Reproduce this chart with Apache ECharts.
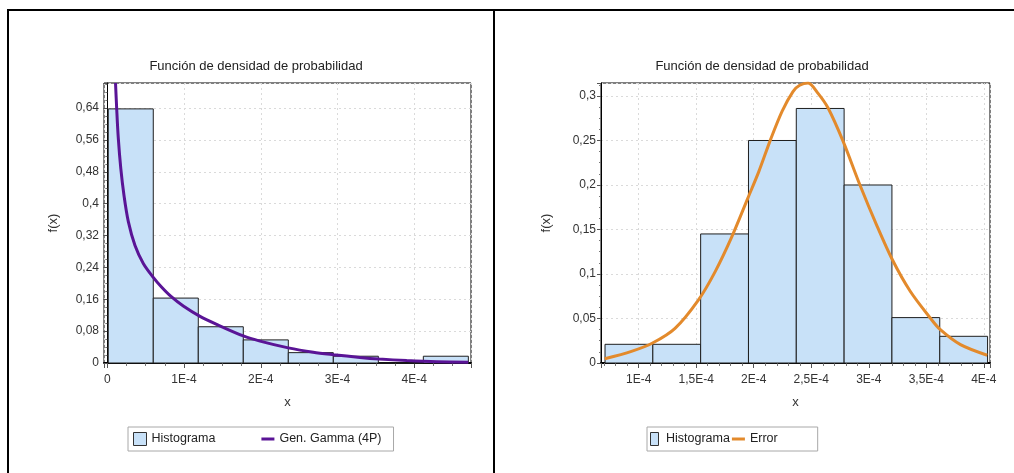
<!DOCTYPE html>
<html>
<head>
<meta charset="utf-8">
<script src="https://cdn.jsdelivr.net/npm/echarts@6/dist/echarts.min.js"></script>
<style>
  html, body { margin: 0; padding: 0; background: #fff; }
  #wrap { position: relative; width: 1014px; height: 473px; overflow: hidden; }
  #chart { position: absolute; left: 0; top: 0; width: 1014px; height: 473px; }
  .rule { position: absolute; background: #000; }
</style>
</head>
<body>
<div id="wrap">
  <div id="chart"></div>
  <!-- table cell rules -->
  <div class="rule" style="left:7px;top:9px;width:1007px;height:2px"></div>
  <div class="rule" style="left:7px;top:9px;width:2px;height:464px"></div>
  <div class="rule" style="left:493px;top:9px;width:2px;height:464px"></div>
</div>
<script>
const FONT = '"Liberation Sans", Arial, sans-serif';
const TITLE = 'Función de densidad de probabilidad';

// Left panel: histogram + fitted generalized gamma density
const leftBinEdges = [0.0125e-4, 0.599e-4, 1.1855e-4, 1.772e-4, 2.3585e-4, 2.945e-4, 3.5315e-4, 4.118e-4, 4.7045e-4];
const leftDensity = [0.638, 0.163, 0.091, 0.058, 0.026, 0.017, 0, 0.017];
const leftCurve = [
  [0.107e-4, 0.703], [0.122e-4, 0.640], [0.143e-4, 0.565], [0.175e-4, 0.490],
  [0.218e-4, 0.420], [0.274e-4, 0.355], [0.361e-4, 0.295], [0.469e-4, 0.250],
  [0.599e-4, 0.215], [0.700e-4, 0.192], [0.830e-4, 0.167], [0.990e-4, 0.143],
  [1.208e-4, 0.117], [1.425e-4, 0.097], [1.772e-4, 0.068], [1.990e-4, 0.055],
  [2.358e-4, 0.038], [2.684e-4, 0.027], [2.945e-4, 0.021], [3.293e-4, 0.014],
  [3.544e-4, 0.010], [3.901e-4, 0.006], [4.292e-4, 0.003], [4.704e-4, 0.002]
];
const leftXRange = [-0.043e-4, 4.739e-4];
const leftYMax = 0.703;
const leftYStep = 0.08;

// Right panel: histogram + fitted error distribution density
const rightBinEdges = [0.7074e-4, 1.123e-4, 1.5386e-4, 1.9542e-4, 2.3698e-4, 2.7854e-4, 3.201e-4, 3.6166e-4, 4.0322e-4];
const rightDensity = [0.021, 0.021, 0.145, 0.25, 0.286, 0.2, 0.051, 0.03];
const rightCurve = [
  [0.705e-4, 0.0048], [0.937e-4, 0.0131], [1.1205e-4, 0.0225], [1.316e-4, 0.039],
  [1.520e-4, 0.071], [1.666e-4, 0.103], [1.810e-4, 0.142], [1.948e-4, 0.185],
  [2.044e-4, 0.215], [2.146e-4, 0.251], [2.247e-4, 0.283], [2.341e-4, 0.305],
  [2.399e-4, 0.312], [2.472e-4, 0.3146], [2.559e-4, 0.303], [2.646e-4, 0.2865],
  [2.777e-4, 0.249], [2.923e-4, 0.200], [3.068e-4, 0.155], [3.205e-4, 0.116],
  [3.360e-4, 0.0806], [3.534e-4, 0.0506], [3.622e-4, 0.0374], [3.797e-4, 0.0206],
  [4.029e-4, 0.0087]
];
const rightXRange = [0.6725e-4, 4.0533e-4];
const rightYMax = 0.3146;
const rightYStep = 0.05;

const BAR_FILL = '#c8e1f8';
const BAR_EDGE = '#1e1e1e';
const PURPLE = '#5a1496';
const ORANGE = '#e38a2c';
const LINE_ICON = 'path://M0,0H13V3H0Z';

function binData(edges, dens) {
  return dens.map((d, i) => [edges[i], edges[i + 1], d]);
}

function renderBin(params, api) {
  const a = api.coord([api.value(0), api.value(2)]);
  const b = api.coord([api.value(1), 0]);
  return {
    type: 'rect',
    shape: { x: a[0], y: a[1], width: b[0] - a[0], height: b[1] - a[1] },
    style: { fill: BAR_FILL, stroke: BAR_EDGE, lineWidth: 1 }
  };
}

// x labels like "0", "1E-4", "1,5E-4"
function fmtX(v) {
  const halves = v * 1e4 * 2;
  if (Math.abs(halves - Math.round(halves)) > 1e-6) return '';
  const m = Math.round(v * 1e5) / 10;
  if (m === 0) return '0';
  return String(m).replace('.', ',') + 'E-4';
}

function fmtY(step) {
  return function (v) {
    const k = v / step;
    if (Math.abs(k - Math.round(k)) > 1e-6) return '';
    return String(+v.toFixed(4)).replace('.', ',');
  };
}

const txt = { fontFamily: FONT, fontSize: 12, color: '#333' };
const gridLine = { show: true, lineStyle: { color: '#dadada', type: [2, 3], width: 1 } };

function xAxis(idx, range, minorSplit) {
  return {
    type: 'value', gridIndex: idx, min: range[0], max: range[1], splitNumber: 5,
    axisLine: { show: true, onZero: false, lineStyle: { color: '#000', width: 2 } },
    axisTick: { show: true, length: 5, lineStyle: { color: '#555' } },
    minorTick: { show: true, splitNumber: minorSplit, length: 3, lineStyle: { color: '#777' } },
    axisLabel: Object.assign({ formatter: fmtX, margin: 11 }, txt),
    splitLine: gridLine,
    name: 'x', nameLocation: 'middle', nameGap: 33,
    nameTextStyle: Object.assign({}, txt, { fontSize: 13 })
  };
}

function yAxis(idx, max, step, gap) {
  return {
    type: 'value', gridIndex: idx, min: 0, max: max, interval: step,
    axisLine: { show: true, lineStyle: { color: '#000', width: 1 } },
    axisTick: { show: true, length: 4, lineStyle: { color: '#555' } },
    minorTick: { show: true, splitNumber: 4, length: 2, lineStyle: { color: '#777' } },
    axisLabel: Object.assign({ formatter: fmtY(step), margin: 5 }, txt),
    splitLine: gridLine,
    name: 'f(x)', nameLocation: 'middle', nameGap: gap,
    nameTextStyle: Object.assign({}, txt, { fontSize: 13 })
  };
}

function titleAt(x) {
  return {
    text: TITLE, left: x, top: 60, textAlign: 'center', padding: 0,
    textStyle: { fontFamily: FONT, fontSize: 13, fontWeight: 'normal', color: '#222' }
  };
}

const legendText = { fontFamily: FONT, fontSize: 12.5, color: '#222' };

const chart = echarts.init(document.getElementById('chart'), null, { renderer: 'canvas' });
chart.setOption({
  animation: false,
  backgroundColor: '#fff',
  title: [titleAt(256), titleAt(762)],
  grid: [
    { left: 104, top: 83, width: 367, height: 280, show: true, borderColor: '#000', borderWidth: 1, backgroundColor: '#fff' },
    { left: 601, top: 83, width: 389, height: 280, show: true, borderColor: '#000', borderWidth: 1, backgroundColor: '#fff' }
  ],
  xAxis: [xAxis(0, leftXRange, 4), xAxis(1, rightXRange, 5)],
  yAxis: [yAxis(0, leftYMax, leftYStep, 44), yAxis(1, rightYMax, rightYStep, 48)],
  legend: [
    {
      left: 128, top: 427, padding: [5, 12, 5, 5], itemGap: 46, itemWidth: 13, itemHeight: 13,
      borderColor: '#a8a8a8', borderWidth: 1, backgroundColor: '#fff', selectedMode: false,
      textStyle: legendText,
      data: [
        { name: 'Histograma', icon: 'rect', itemStyle: { color: BAR_FILL, borderColor: '#333', borderWidth: 1 } },
        { name: 'Gen. Gamma (4P)', icon: LINE_ICON, itemStyle: { color: PURPLE, borderWidth: 0 } }
      ]
    },
    {
      left: 647, top: 427, padding: [5, 40, 5, 3], itemGap: 2, itemWidth: 13, itemHeight: 13,
      borderColor: '#a8a8a8', borderWidth: 1, backgroundColor: '#fff', selectedMode: false,
      textStyle: legendText,
      data: [
        { name: 'Histograma', icon: 'path://M0,0H8V13H0Z', itemStyle: { color: BAR_FILL, borderColor: '#333', borderWidth: 1 } },
        { name: 'Error', icon: LINE_ICON, itemStyle: { color: ORANGE, borderWidth: 0 } }
      ]
    }
  ],
  series: [
    {
      type: 'custom', name: 'Histograma', xAxisIndex: 0, yAxisIndex: 0,
      renderItem: renderBin, data: binData(leftBinEdges, leftDensity),
      encode: { x: [0, 1], y: 2 }, itemStyle: { color: BAR_FILL }, z: 2
    },
    {
      type: 'line', name: 'Gen. Gamma (4P)', xAxisIndex: 0, yAxisIndex: 0,
      data: leftCurve, smooth: 0.3, symbol: 'none', clip: true,
      lineStyle: { color: PURPLE, width: 3 }, itemStyle: { color: PURPLE }, z: 3
    },
    {
      type: 'custom', name: 'Histograma', xAxisIndex: 1, yAxisIndex: 1,
      renderItem: renderBin, data: binData(rightBinEdges, rightDensity),
      encode: { x: [0, 1], y: 2 }, itemStyle: { color: BAR_FILL }, z: 2
    },
    {
      type: 'line', name: 'Error', xAxisIndex: 1, yAxisIndex: 1,
      data: rightCurve, smooth: 0.3, symbol: 'none', clip: true,
      lineStyle: { color: ORANGE, width: 3 }, itemStyle: { color: ORANGE }, z: 3
    }
  ]
});
</script>
</body>
</html>
